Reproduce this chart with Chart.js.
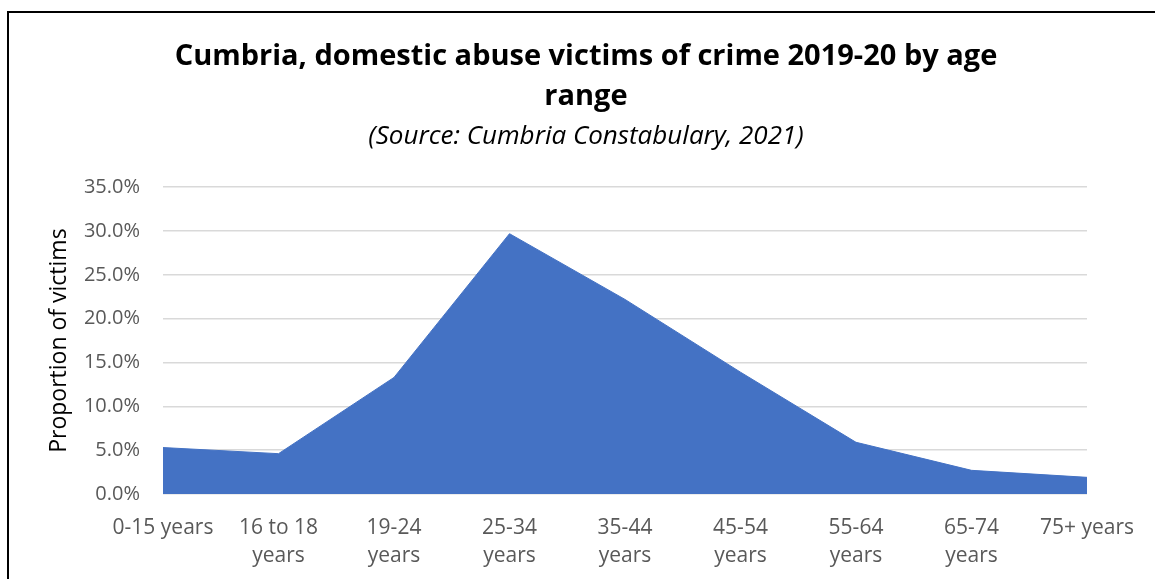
<!DOCTYPE html>
<html>
<head>
<meta charset="utf-8">
<script src="https://cdn.jsdelivr.net/npm/chart.js@4"></script>
<style>
  html, body { margin: 0; padding: 0; background: #fff; overflow: hidden; }
  #frame {
    position: absolute; left: 7px; top: 11px;
    width: 1170px; height: 600px;
    border: 2px solid #000; box-sizing: border-box;
  }
  #wrap { position: absolute; left: 9px; top: 13px; width: 1154px; height: 566px; }
</style>
</head>
<body>
<div id="frame"></div>
<div id="wrap"><canvas id="chart"></canvas></div>
<script>
// age ranges (multi-line where the label wraps)
const ageRanges = [
    '0-15 years',
    ['16 to 18', 'years'],
    ['19-24', 'years'],
    ['25-34', 'years'],
    ['35-44', 'years'],
    ['45-54', 'years'],
    ['55-64', 'years'],
    ['65-74', 'years'],
    '75+ years'
];
// share of domestic abuse victims, percent
const victimShare = [5.3, 4.6, 13.3, 29.7, 22.2, 13.9, 5.9, 2.7, 1.9];
const yMax = 35;
const yStep = 5;

const fontFamily = '"Open Sans", "Noto Sans", sans-serif';

function add_area_chart(ctx) {
    return new Chart(ctx, {
        type: 'line',
        data: {
            labels: ageRanges,
            datasets: [{
                label: 'Proportion of victims',
                data: victimShare,
                fill: 'origin',
                backgroundColor: '#4472C4',
                borderColor: '#4472C4',
                borderWidth: 1,
                pointRadius: 0,
                tension: 0
            }]
        },
        options: {
            responsive: true,
            maintainAspectRatio: false,
            animation: false,
            layout: { padding: { left: 0, right: 0, top: 20, bottom: 0 } },
            plugins: {
                legend: { display: false },
                tooltip: { enabled: false },
                title: {
                    display: true,
                    text: ['Cumbria, domestic abuse victims of crime 2019-20 by age', 'range'],
                    color: '#000',
                    font: { family: fontFamily, size: 29, weight: 'bold', lineHeight: 1.38 },
                    padding: { top: 4, bottom: 4 }
                },
                subtitle: {
                    display: true,
                    text: '(Source: Cumbria Constabulary, 2021)',
                    color: '#000',
                    font: { family: fontFamily, size: 26, style: 'italic' },
                    padding: { top: 0, bottom: 35 }
                }
            },
            scales: {
                x: {
                    offset: false,
                    afterFit: (scale) => { scale.height = 85; },
                    grid: { display: false },
                    border: { display: false },
                    ticks: {
                        color: '#595959',
                        font: { family: fontFamily, size: 21, lineHeight: 1.33 },
                        maxRotation: 0,
                        autoSkip: false,
                        padding: 12
                    }
                },
                y: {
                    min: 0,
                    max: yMax,
                    afterFit: (scale) => { scale.width = 154; },
                    grid: { color: '#d9d9d9', lineWidth: 1.5, drawTicks: false },
                    border: { display: false },
                    ticks: {
                        stepSize: yStep,
                        color: '#595959',
                        font: { family: fontFamily, size: 20 },
                        padding: 23,
                        callback: (v) => v.toFixed(1) + '%'
                    },
                    title: {
                        display: true,
                        text: 'Proportion of victims',
                        color: '#000',
                        font: { family: fontFamily, size: 23 },
                        padding: { top: 37, bottom: 0 }
                    }
                },
                // empty right-hand axis, only reserves space after the last category
                spacer: {
                    position: 'right',
                    display: true,
                    afterFit: (scale) => { scale.width = 76; },
                    grid: { display: false },
                    border: { display: false },
                    ticks: { display: false }
                }
            }
        }
    });
}

add_area_chart(document.getElementById('chart'));
</script>
</body>
</html>
